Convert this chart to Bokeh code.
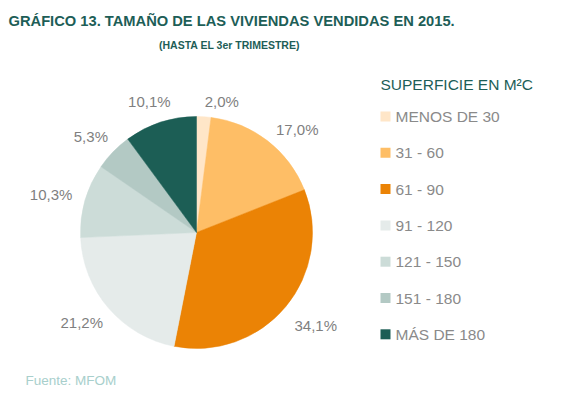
import math
from bokeh.plotting import figure
from bokeh.models import Range1d, ColumnDataSource
from bokeh.core.properties import value
from bokeh.embed import file_html
from bokeh.resources import INLINE

# ---- data ----
categories = ["MENOS DE 30", "31 - 60", "61 - 90", "91 - 120", "121 - 150", "151 - 180", "MÁS DE 180"]
shares = [2.0, 17.0, 34.1, 21.2, 10.3, 5.3, 10.1]
colors = ["#FFE6C8", "#FEBE66", "#EB8305", "#E5EBEA", "#CCDCD8", "#B3C9C4", "#1C5E55"]
title_text = "GRÁFICO 13. TAMAÑO DE LAS VIVIENDAS VENDIDAS EN 2015."
subtitle_text = "(HASTA EL 3er TRIMESTRE)"
legend_title = "SUPERFICIE EN M²C"
source_text = "Fuente: MFOM"

# ---- layout / style ----
W, H = 561, 393
def px(x):  # screenshot x -> data x
    return x
def py(y):  # screenshot y -> data y
    return H - y

CX, CY, R = px(196), py(232), 116
FONT = value("Liberation Sans")
TEAL = "#1D5E57"
GREY = "#7F7F7F"
label_nudge = [(16, 6), (8, 6), (3, 5), (0, 0), (0, 0), (0, 0), (0, 0)]

p = figure(width=W, height=H, output_backend="svg", toolbar_location=None,
           x_range=Range1d(0, W), y_range=Range1d(0, H), min_border=0)
p.axis.visible = False
p.grid.visible = False
p.outline_line_color = None
p.background_fill_color = "white"
p.border_fill_color = "white"

# ---- pie ----
total = sum(shares)
starts, ends, mids = [], [], []
cum = 0.0
for s in shares:
    a0 = math.pi / 2 - 2 * math.pi * cum / total
    cum += s
    a1 = math.pi / 2 - 2 * math.pi * cum / total
    starts.append(a0)
    ends.append(a1)
    mids.append((a0 + a1) / 2)

src = ColumnDataSource(dict(x=[CX] * len(shares), y=[CY] * len(shares),
                            start=starts, end=ends, color=colors))
p.wedge(x="x", y="y", radius=R, radius_units="screen", start_angle="start",
        end_angle="end", direction="clock", fill_color="color", line_color="color",
        line_width=0.5, source=src)

# ---- percentage labels ----
def text_w(s, fs):
    wmap = {",": 0.278, "%": 0.889}
    return sum(wmap.get(c, 0.556) for c in s) * fs

LFS = 15
lx, ly, lt = [], [], []
for i, (s, m) in enumerate(zip(shares, mids)):
    t = f"{s:.1f}".replace(".", ",") + "%"
    dx, dy = math.cos(m), math.sin(m)
    d = R + 14
    w = text_w(t, LFS)
    h = LFS
    x = CX + d * dx + w / 2 * dx + label_nudge[i][0]
    y = CY + d * dy + h / 2 * dy - label_nudge[i][1]
    lx.append(x); ly.append(y); lt.append(t)
p.text(x=lx, y=ly, text=lt, text_align="center", text_baseline="middle",
       text_font=FONT, text_font_size=f"{LFS}px", text_color=GREY)

# ---- legend ----
LX, LY0, LSTEP = px(380), py(116), 36.3
p.text(x=[LX], y=[py(84)], text=[legend_title], text_align="left", text_baseline="middle",
       text_font=FONT, text_font_size="15.5px", text_color=TEAL)
leg_y = [LY0 - i * LSTEP for i in range(len(categories))]
p.rect(x=[LX + 5] * len(categories), y=leg_y, width=10, height=10,
       width_units="screen", height_units="screen", fill_color=colors, line_color=None)
p.text(x=[LX + 15] * len(categories), y=leg_y, text=categories, text_align="left",
       text_baseline="middle", text_font=FONT, text_font_size="15.5px", text_color="#8A8A8A")

# ---- titles / source ----
p.text(x=[px(8)], y=[py(20)], text=[title_text], text_align="left", text_baseline="middle",
       text_font=FONT, text_font_style="bold", text_font_size="14.7px", text_color=TEAL)
p.text(x=[px(229)], y=[py(44)], text=[subtitle_text], text_align="center", text_baseline="middle",
       text_font=FONT, text_font_style="bold", text_font_size="10.5px", text_color=TEAL)
p.text(x=[px(25)], y=[py(380)], text=[source_text], text_align="left", text_baseline="middle",
       text_font=FONT, text_font_size="13.5px", text_color="#A8CFCC")

open("out.html", "w").write(file_html(p, INLINE))
